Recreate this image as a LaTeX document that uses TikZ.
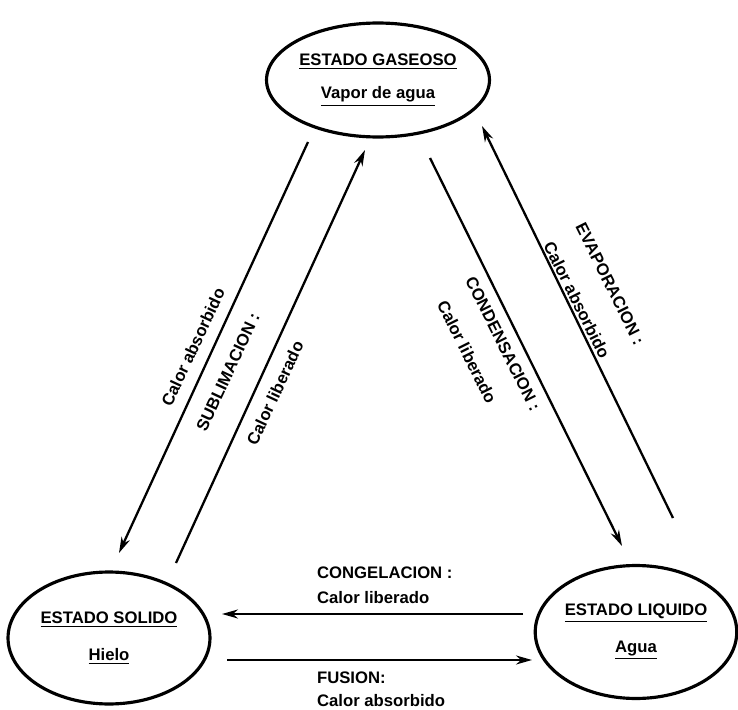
\documentclass[tikz,border=0pt]{standalone}
\usepackage{fontspec}
\setmainfont{Liberation Sans}
\usetikzlibrary{shapes,arrows.meta,positioning,calc}

\begin{document}
\begin{tikzpicture}[x=0.02cm, y=-0.02cm,
    state/.style={ellipse, draw, line width=1.8pt, inner sep=0pt, align=center, font=\bfseries\fontsize{9.5}{11}\selectfont},
    arrow/.style={-{Stealth[length=3.2mm, width=1.8mm]}, line width=1.3pt},
    lbl/.style={font=\bfseries\fontsize{9.5}{11}\selectfont, inner sep=1pt}]
  \useasboundingbox (0,0) rectangle (738,710);

  % the three states
  \node[state, minimum width=4.46cm, minimum height=2.28cm] (G) at (378,80) {\underline{ESTADO GASEOSO}\\[8pt]\underline{Vapor de agua}};
  \node[state, minimum width=4.04cm, minimum height=2.64cm] (S) at (109,638) {\underline{ESTADO SOLIDO}\\[10pt]\underline{Hielo}};
  \node[state, minimum width=3.96cm, minimum height=2.66cm] (L) at (636,632) {\underline{ESTADO LIQUIDO}\\[10pt]\underline{Agua}};

  % arrow ends
  \coordinate (gs1) at (308,142); \coordinate (sg1) at (119,553);
  \coordinate (sg2) at (176,563); \coordinate (gs2) at (365,150);
  \coordinate (gl1) at (430,158); \coordinate (lg1) at (622,546);
  \coordinate (lg2) at (673,518); \coordinate (gl2) at (482,126);
  \coordinate (ls) at (523,614); \coordinate (sl) at (222,614);
  \coordinate (sl2) at (227,660); \coordinate (ls2) at (532,660);

  \draw[arrow] (gs1) -- (sg1);
  \draw[arrow] (sg2) -- (gs2);
  \draw[arrow] (gl1) -- (lg1);
  \draw[arrow] (lg2) -- (gl2);
  \draw[arrow] (ls) -- (sl);
  \draw[arrow] (sl2) -- (ls2);

  % labels
  \node[lbl, rotate=65] (t1) at (193,347) {Calor absorbido};
  \node[lbl, rotate=65] (t2) at (228,372) {SUBLIMACION :};
  \node[lbl, rotate=65] (t3) at (275,393) {Calor liberado};
  \node[lbl, rotate=-63.5] (t4) at (467,352) {Calor liberado};
  \node[lbl, rotate=-63.5] (t5) at (503,344) {CONDENSACION :};
  \node[lbl, rotate=-63.5] (t6) at (577,300) {Calor absorbido};
  \node[lbl, rotate=-63.5] (t7) at (610,284) {EVAPORACION :};
  \node[lbl, anchor=west] (t8) at (315,573) {CONGELACION :};
  \node[lbl, anchor=west] (t9) at (315,598) {Calor liberado};
  \node[lbl, anchor=west] (t10) at (315,678) {FUSION:};
  \node[lbl, anchor=west] (t11) at (315,701) {Calor absorbido};
\end{tikzpicture}
\end{document}
